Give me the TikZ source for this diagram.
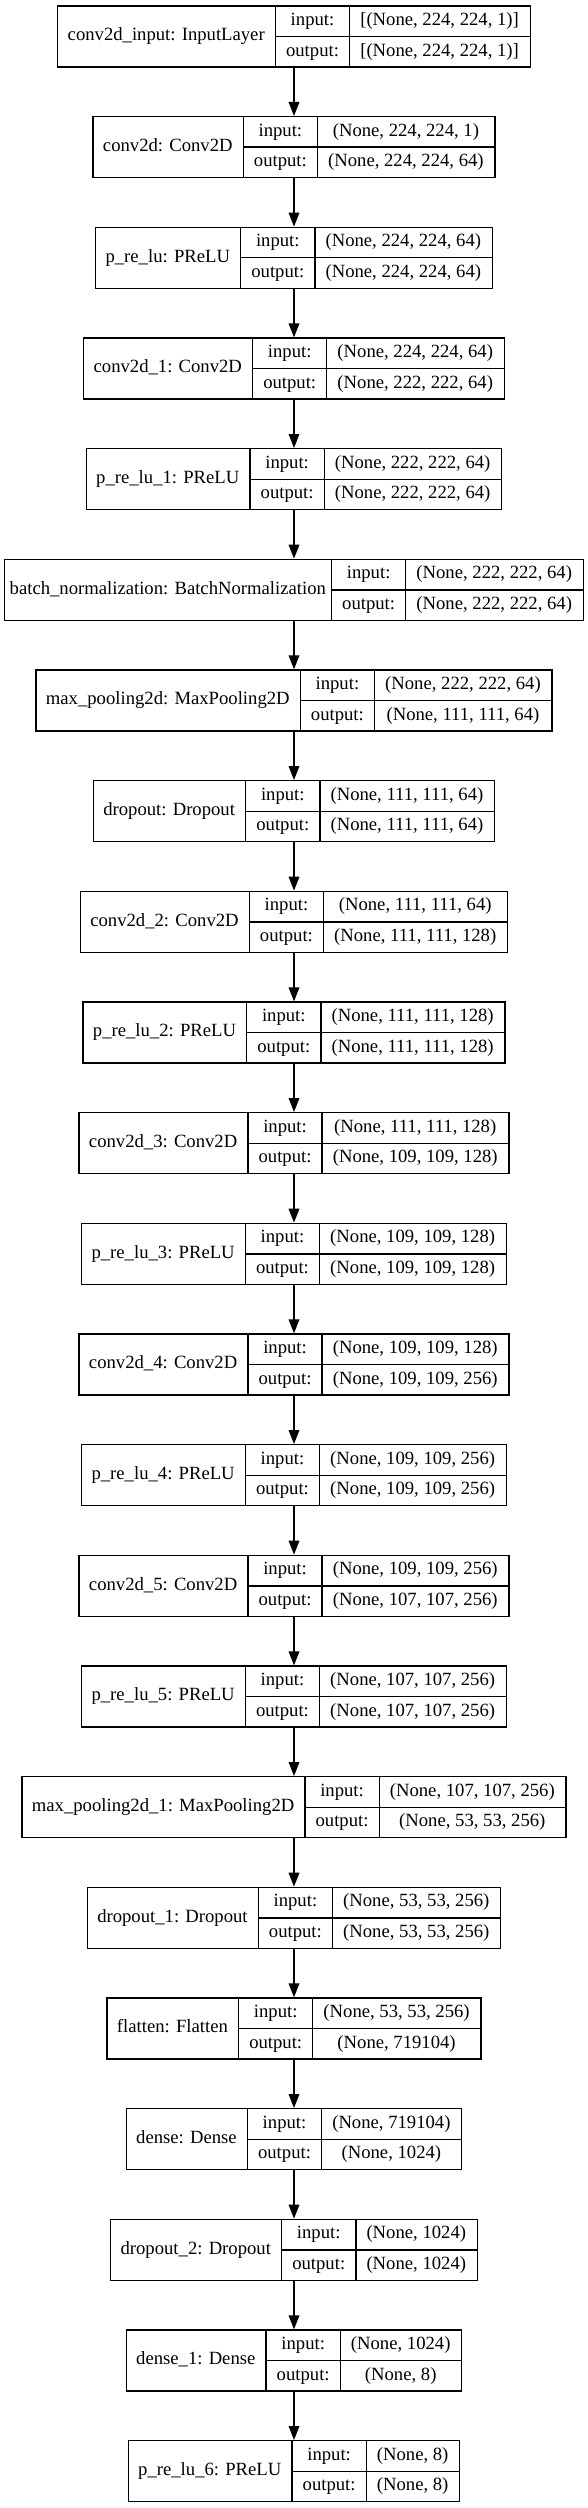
\documentclass[tikz,border=0pt]{standalone}
\usepackage{fontspec}
\setmainfont{Liberation Serif}
\usetikzlibrary{arrows.meta}
\newlength\wa \newlength\wb \newlength\wc \newlength\wtmp \newlength\wtot
\newcommand\lfont{\fontsize{14pt}{16.8pt}\selectfont}
\tikzset{
  layer/.style={draw=black, line width=1pt, rectangle, inner sep=0pt, minimum height=45.75pt},
  sep/.style={draw=black, line width=1pt},
  txt/.style={inner sep=0pt, text height=9.5pt, text depth=3pt, font=\lfont},
  arr/.style={draw=black, line width=1pt, -{Triangle[length=10.5pt,width=8pt]}}
}
% [#1 name-field correction], #2 index, #3 name, #4 input shape, #5 output shape
\newcommand\layerbox[5][0pt]{%
  \pgfinterruptpicture
    \normalfont\lfont
    \settowidth\wtmp{#3}\global\wa=\wtmp
    \settowidth\wtmp{output:}\global\wb=\wtmp
    \settowidth\wtmp{#4}\global\wc=\wtmp
    \settowidth\wtmp{#5}%
    \ifdim\wtmp>\wc\relax\global\wc=\wtmp\fi
  \endpgfinterruptpicture
  \addtolength\wa{16pt}\addtolength\wa{#1}\addtolength\wb{16pt}\addtolength\wc{16pt}%
  \wtot=\wa\advance\wtot\wb\advance\wtot\wc
  \node[layer, minimum width=\wtot] (L#2) at ({220.5pt},{-27.375pt-83pt*#2}) {};
  \path (L#2.north west) ++(\wa,0) coordinate (L#2-d1) ++(\wb,0) coordinate (L#2-d2);
  \draw[sep] (L#2-d1) -- (L#2-d1 |- L#2.south);
  \draw[sep] (L#2-d2) -- (L#2-d2 |- L#2.south);
  \draw[sep] (L#2-d1 |- L#2.center) -- (L#2.east);
  \path (L#2.west) ++({0.5*\wa},0) node[txt] (L#2-name) {#3};
  \path (L#2-d1 |- L#2.center) ++({0.5*\wb},11.4375pt) node[txt] (L#2-il) {input:};
  \path (L#2-d1 |- L#2.center) ++({0.5*\wb},-11.4375pt) node[txt] (L#2-ol) {output:};
  \path (L#2-d2 |- L#2.center) ++({0.5*\wc},11.4375pt) node[txt] (L#2-iv) {#4};
  \path (L#2-d2 |- L#2.center) ++({0.5*\wc},-11.4375pt) node[txt] (L#2-ov) {#5};
}
\begin{document}
\begin{tikzpicture}
\useasboundingbox (0,0) rectangle (441pt,-1881pt);
\layerbox{0}{conv2d\_input: InputLayer}{[(None, 224, 224, 1)]}{[(None, 224, 224, 1)]}
\layerbox{1}{conv2d: Conv2D}{(None, 224, 224, 1)}{(None, 224, 224, 64)}
\layerbox{2}{p\_re\_lu: PReLU}{(None, 224, 224, 64)}{(None, 224, 224, 64)}
\layerbox{3}{conv2d\_1: Conv2D}{(None, 224, 224, 64)}{(None, 222, 222, 64)}
\layerbox{4}{p\_re\_lu\_1: PReLU}{(None, 222, 222, 64)}{(None, 222, 222, 64)}
\layerbox[-7.5pt]{5}{batch\_normalization: BatchNormalization}{(None, 222, 222, 64)}{(None, 222, 222, 64)}
\layerbox{6}{max\_pooling2d: MaxPooling2D}{(None, 222, 222, 64)}{(None, 111, 111, 64)}
\layerbox{7}{dropout: Dropout}{(None, 111, 111, 64)}{(None, 111, 111, 64)}
\layerbox{8}{conv2d\_2: Conv2D}{(None, 111, 111, 64)}{(None, 111, 111, 128)}
\layerbox{9}{p\_re\_lu\_2: PReLU}{(None, 111, 111, 128)}{(None, 111, 111, 128)}
\layerbox{10}{conv2d\_3: Conv2D}{(None, 111, 111, 128)}{(None, 109, 109, 128)}
\layerbox{11}{p\_re\_lu\_3: PReLU}{(None, 109, 109, 128)}{(None, 109, 109, 128)}
\layerbox{12}{conv2d\_4: Conv2D}{(None, 109, 109, 128)}{(None, 109, 109, 256)}
\layerbox{13}{p\_re\_lu\_4: PReLU}{(None, 109, 109, 256)}{(None, 109, 109, 256)}
\layerbox{14}{conv2d\_5: Conv2D}{(None, 109, 109, 256)}{(None, 107, 107, 256)}
\layerbox{15}{p\_re\_lu\_5: PReLU}{(None, 107, 107, 256)}{(None, 107, 107, 256)}
\layerbox{16}{max\_pooling2d\_1: MaxPooling2D}{(None, 107, 107, 256)}{(None, 53, 53, 256)}
\layerbox{17}{dropout\_1: Dropout}{(None, 53, 53, 256)}{(None, 53, 53, 256)}
\layerbox{18}{flatten: Flatten}{(None, 53, 53, 256)}{(None, 719104)}
\layerbox{19}{dense: Dense}{(None, 719104)}{(None, 1024)}
\layerbox{20}{dropout\_2: Dropout}{(None, 1024)}{(None, 1024)}
\layerbox{21}{dense\_1: Dense}{(None, 1024)}{(None, 8)}
\layerbox{22}{p\_re\_lu\_6: PReLU}{(None, 8)}{(None, 8)}
\foreach \i [evaluate=\i as \j using int(\i+1)] in {0,...,21} {
  \draw[arr] (L\i.south) -- (L\j.north);
}
\end{tikzpicture}
\end{document}
